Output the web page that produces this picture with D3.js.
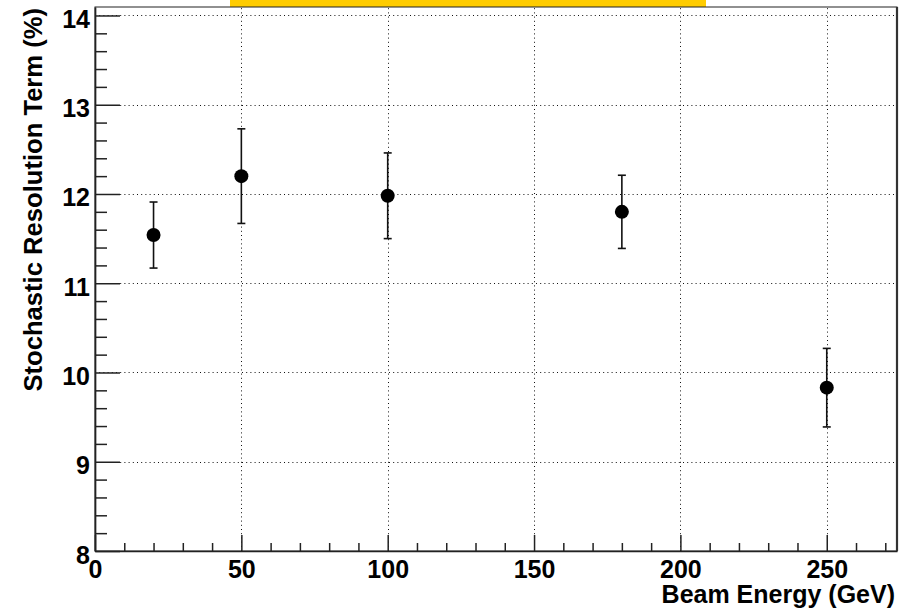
<!DOCTYPE html>
<html>
<head>
<meta charset="utf-8">
<script src="https://cdn.jsdelivr.net/npm/d3@7/dist/d3.min.js"></script>
<style>
  html, body { margin: 0; padding: 0; background: #fff; }
  svg { display: block; }
  text { font-family: "Liberation Sans", Arial, Helvetica, sans-serif; font-weight: bold; fill: #000; }
</style>
</head>
<body>
<svg id="chart" width="909" height="610"></svg>
<script>
// Beam energy points (GeV) with stochastic term and its uncertainty (%)
const energies = [20, 50, 100, 180, 250];
const stochastic = [11.54, 12.20, 11.98, 11.80, 9.83];
const errors = [0.37, 0.53, 0.48, 0.41, 0.44];

const xTicks = [0, 50, 100, 150, 200, 250];
const yTicks = [8, 9, 10, 11, 12, 13, 14];

(function () {
  const svg = d3.select("#chart");
  const padL = 95, padR = 897, padT = 7, padB = 551;

  const x = d3.scaleLinear().domain([0, 274]).range([padL, padR]);
  const y = d3.scaleLinear().domain([8, 14.095]).range([padB, padT]);

  // title box peeking in at the top edge
  svg.append("rect")
    .attr("x", 230).attr("y", 0).attr("width", 476).attr("height", 7)
    .attr("fill", "#ffcc00");

  // frame
  svg.append("rect")
    .attr("x", padL).attr("y", padT).attr("width", padR - padL).attr("height", padB - padT)
    .attr("fill", "none").attr("stroke", "#222").attr("stroke-width", 1);
  svg.append("line")
    .attr("x1", padR).attr("x2", padR).attr("y1", padT).attr("y2", padB)
    .attr("stroke", "#333").attr("stroke-width", 2.2);

  // dotted grid at major ticks
  const grid = svg.append("g").attr("stroke", "#111").attr("stroke-width", 1)
    .attr("stroke-dasharray", "1,3.2");
  grid.selectAll("line.gx").data(xTicks.filter(d => d > 0)).join("line")
    .attr("class", "gx")
    .attr("x1", d => Math.round(x(d)) + 0.5).attr("x2", d => Math.round(x(d)) + 0.5)
    .attr("y1", padB).attr("y2", padT);
  grid.selectAll("line.gy").data(yTicks.filter(d => d > 8)).join("line")
    .attr("class", "gy")
    .attr("y1", d => Math.round(y(d)) + 0.5).attr("y2", d => Math.round(y(d)) + 0.5)
    .attr("x1", padL).attr("x2", padR);

  // minor ticks
  const xMinor = d3.range(0, 271, 10).filter(d => d % 50 !== 0);
  const yMinor = d3.range(8, 14.1, 0.2).map(d => +d.toFixed(1)).filter(d => Math.abs(d - Math.round(d)) > 1e-6);

  svg.append("g").attr("transform", `translate(0,${padB})`)
    .call(d3.axisBottom(x).tickValues(xMinor).tickSize(-8).tickFormat(""))
    .call(g => g.select(".domain").remove())
    .selectAll("line").attr("stroke", "#222").attr("stroke-width", 1.5);
  svg.append("g").attr("transform", `translate(${padL},0)`)
    .call(d3.axisLeft(y).tickValues(yMinor).tickSize(-12).tickFormat(""))
    .call(g => g.select(".domain").remove())
    .selectAll("line").attr("stroke", "#222").attr("stroke-width", 1.5);

  // major axes
  const xAxis = svg.append("g").attr("transform", `translate(0,${padB})`)
    .call(d3.axisBottom(x).tickValues(xTicks).tickSize(-16).tickSizeOuter(0).tickPadding(9).tickFormat(d3.format("d")));
  xAxis.select(".domain").attr("stroke", "#222").attr("stroke-width", 1.7);
  xAxis.selectAll("line").attr("stroke", "#222").attr("stroke-width", 1.5);
  xAxis.selectAll("text").attr("font-size", 25).attr("font-family", null);

  const yAxis = svg.append("g").attr("transform", `translate(${padL},0)`)
    .call(d3.axisLeft(y).tickValues(yTicks).tickSize(-25).tickSizeOuter(0).tickPadding(5).tickFormat(d3.format("d")));
  yAxis.select(".domain").attr("stroke", "#222").attr("stroke-width", 1.7);
  yAxis.selectAll("line").attr("stroke", "#222").attr("stroke-width", 1.5);
  yAxis.selectAll("text").attr("font-size", 25).attr("font-family", null).attr("dy", "0.48em");

  // axis titles
  svg.append("text")
    .attr("x", 895).attr("y", 603)
    .attr("text-anchor", "end").attr("font-size", 25)
    .text("Beam Energy (GeV)");
  svg.append("text")
    .attr("transform", "translate(42,8) rotate(-90)")
    .attr("text-anchor", "end").attr("font-size", 25.6)
    .text("Stochastic Resolution Term (%)");

  // error bars and markers
  const pts = energies.map((e, i) => ({ e, v: stochastic[i], err: errors[i] }));
  const eb = svg.append("g").attr("stroke", "#111").attr("stroke-width", 1.6);
  eb.selectAll("line.bar").data(pts).join("line").attr("class", "bar")
    .attr("x1", d => x(d.e)).attr("x2", d => x(d.e))
    .attr("y1", d => y(d.v + d.err)).attr("y2", d => y(d.v - d.err));
  eb.selectAll("line.capT").data(pts).join("line").attr("class", "capT")
    .attr("x1", d => x(d.e) - 4).attr("x2", d => x(d.e) + 4)
    .attr("y1", d => y(d.v + d.err)).attr("y2", d => y(d.v + d.err));
  eb.selectAll("line.capB").data(pts).join("line").attr("class", "capB")
    .attr("x1", d => x(d.e) - 4).attr("x2", d => x(d.e) + 4)
    .attr("y1", d => y(d.v - d.err)).attr("y2", d => y(d.v - d.err));
  svg.append("g").selectAll("circle").data(pts).join("circle")
    .attr("cx", d => x(d.e)).attr("cy", d => y(d.v)).attr("r", 7)
    .attr("fill", "#000");
})();
</script>
</body>
</html>
